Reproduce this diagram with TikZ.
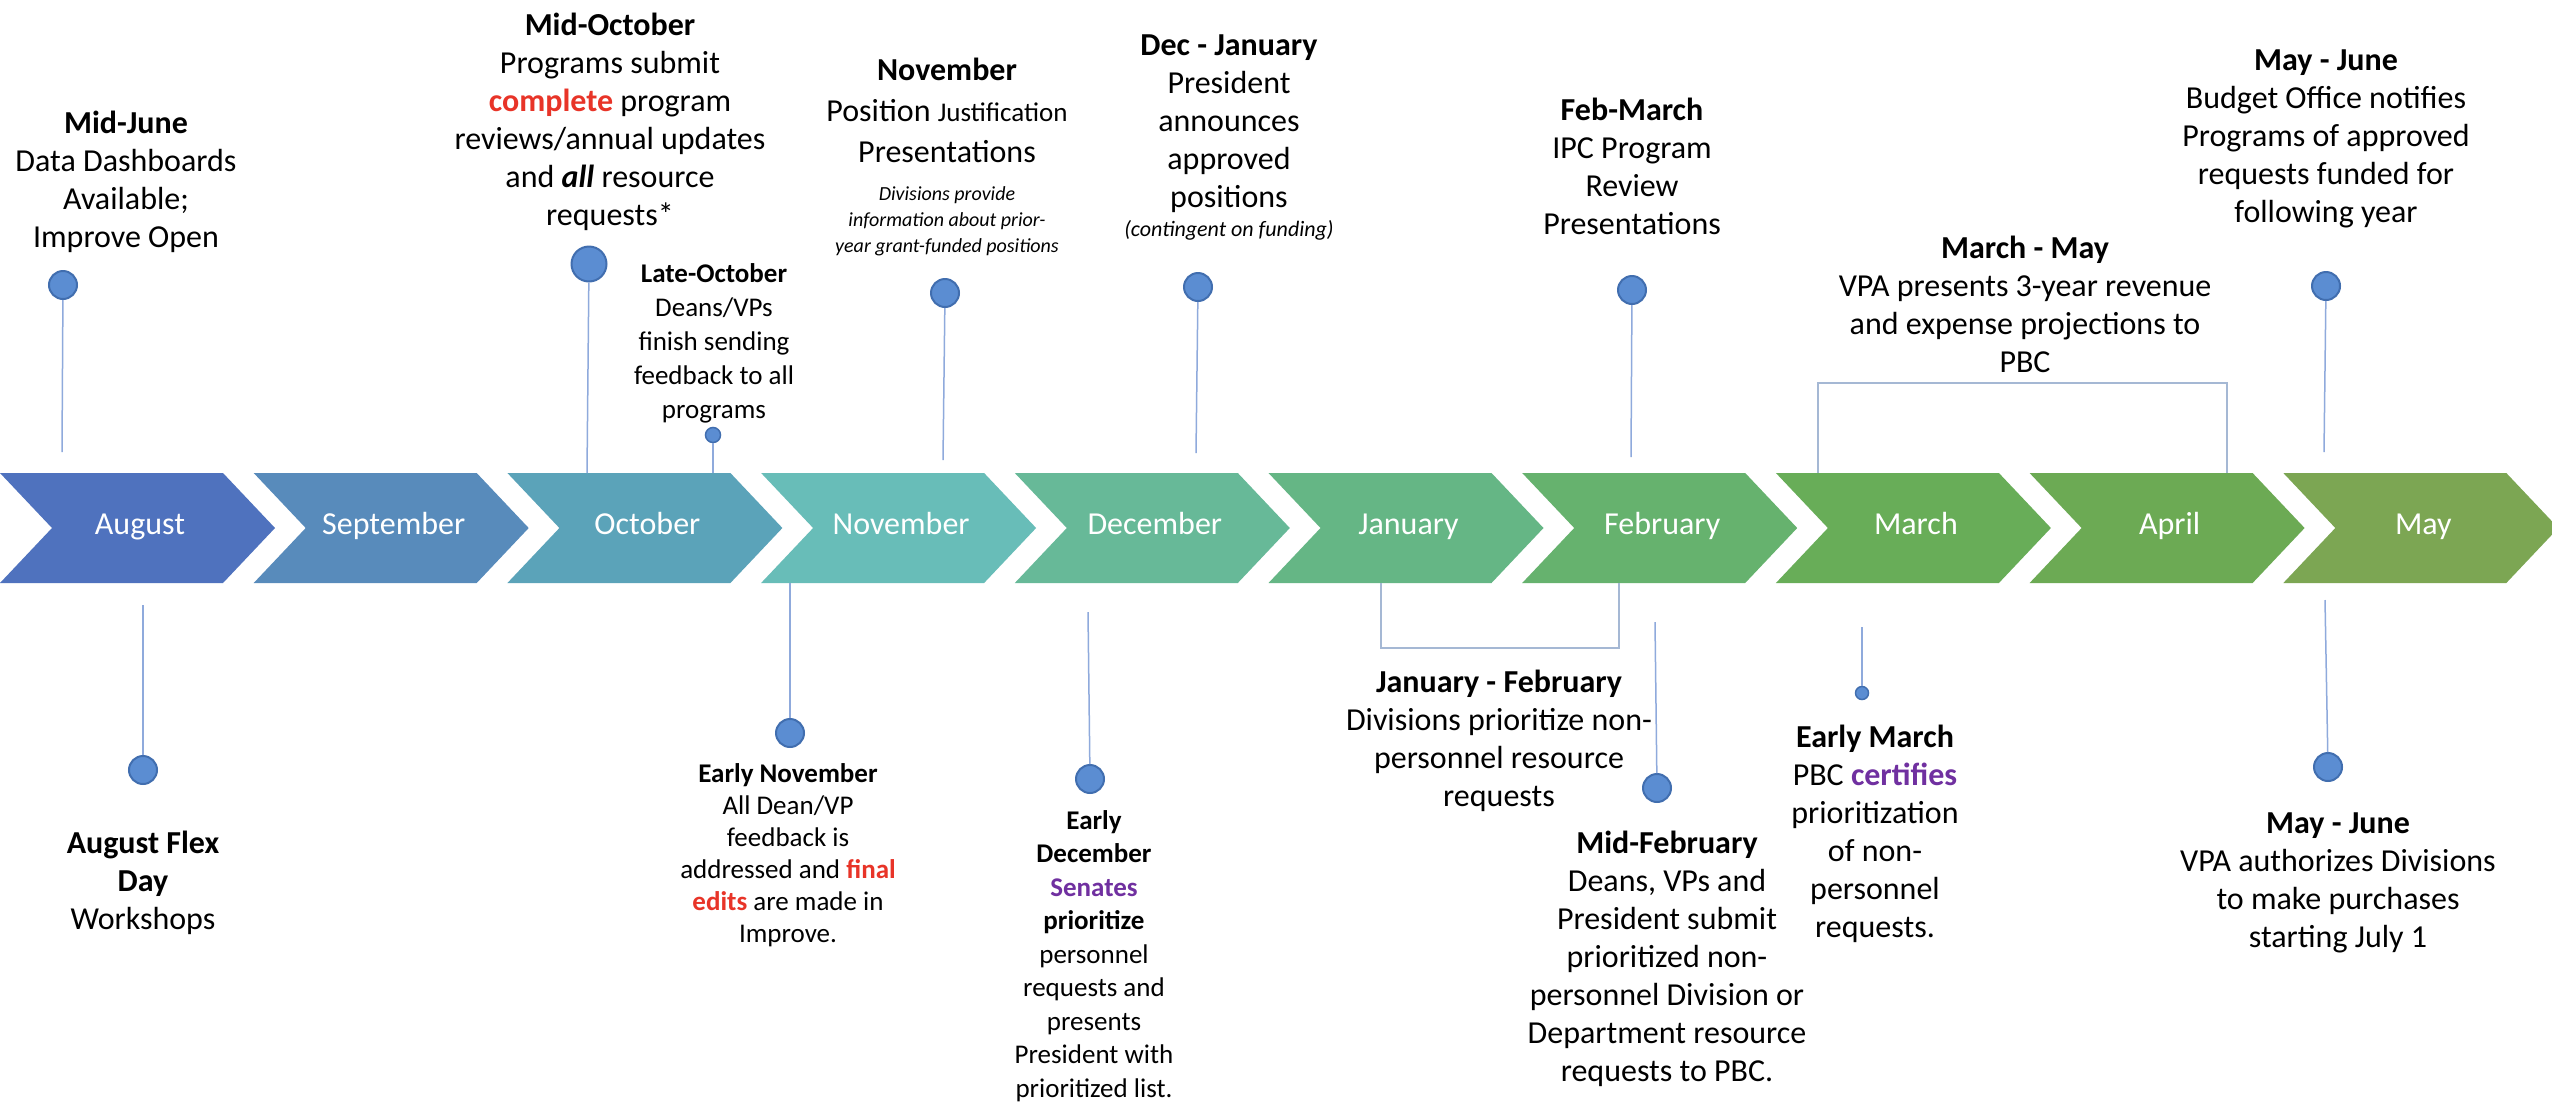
\documentclass[tikz,border=0pt]{standalone}
\usepackage{fontspec}
\setmainfont{Carlito}
\usetikzlibrary{shapes.geometric}
\definecolor{cAug}{RGB}{79,114,190}
\definecolor{cSep}{RGB}{88,139,187}
\definecolor{cOct}{RGB}{91,163,185}
\definecolor{cNov}{RGB}{104,189,184}
\definecolor{cDec}{RGB}{103,185,152}
\definecolor{cJan}{RGB}{101,182,133}
\definecolor{cFeb}{RGB}{102,178,110}
\definecolor{cMar}{RGB}{104,173,88}
\definecolor{cApr}{RGB}{108,170,84}
\definecolor{cMay}{RGB}{124,166,83}
\definecolor{dotfill}{RGB}{91,141,210}
\definecolor{dotdraw}{RGB}{65,110,175}
\definecolor{connc}{RGB}{143,170,220}
\definecolor{brkc}{RGB}{165,184,212}
\definecolor{hired}{RGB}{232,52,40}
\definecolor{hipurple}{RGB}{112,48,160}
\newcommand{\bigtxt}{\fontsize{32}{38}\selectfont}
\newcommand{\smalltxt}{\fontsize{27}{33}\selectfont}
\newcommand{\tinyit}{\fontsize{20}{23}\selectfont\itshape}
\begin{document}
\begin{tikzpicture}[x=1pt,y=-1pt,
  lbl/.style={font=\bigtxt, align=center, inner sep=0pt, anchor=north},
  lblsm/.style={font=\smalltxt, align=center, inner sep=0pt, anchor=north},
  month/.style={font=\bigtxt, text=white, inner sep=0pt, text height=22pt, text depth=7pt},
  dot/.style={circle, fill=dotfill, draw=dotdraw, line width=2pt, minimum size=28pt, inner sep=0pt},
  bigdot/.style={dot, minimum size=35pt},
  smalldot/.style={dot, minimum size=15pt, line width=1.5pt},
  conn/.style={draw=connc, line width=1.5pt},
  brk/.style={draw=brkc, line width=2.5pt}]
\useasboundingbox (0,0) rectangle (2552,1101);
\fill[white] (0,0) rectangle (2552,1101);
% chevrons
\foreach \i/\c/\m in {0/cAug/August,1/cSep/September,2/cOct/October,3/cNov/November,4/cDec/December,5/cJan/January,6/cFeb/February,7/cMar/March,8/cApr/April,9/cMay/May}{
  \pgfmathsetmacro\xo{253.7*\i}
  \fill[\c] (\xo,473) -- ++(223,0) -- ++(52,55) -- ++(-52,55) -- ++(-223,0) -- ++(52,-55) -- cycle;
  \node[month] (m\i) at (\xo+140,527) {\m};
}
% dots
\node[dot] (dJune) at (63,285) {};
\node[bigdot] (dOctMid) at (589,264) {};
\node[smalldot] (dOctLate) at (713,435) {};
\node[dot] (dNov) at (945,293) {};
\node[dot] (dDec) at (1198,287) {};
\node[dot] (dFeb) at (1632,290) {};
\node[dot] (dMayT) at (2326,286) {};
\node[dot] (dAug) at (143,770) {};
\node[dot] (dNovE) at (790,733) {};
\node[dot] (dDecE) at (1090,779) {};
\node[dot] (dFebM) at (1657,788) {};
\node[smalldot, minimum size=13pt] (dMarE) at (1862,693) {};
\node[dot] (dMayB) at (2328,767) {};
% connector ends
\coordinate (eJune) at (62,452);
\coordinate (eOctMid) at (587,473);
\coordinate (eOctLate) at (713,473);
\coordinate (eNov) at (943,460);
\coordinate (eDec) at (1196,453);
\coordinate (eFeb) at (1631,457);
\coordinate (eMayT) at (2324,452);
\coordinate (eAug) at (143,605);
\coordinate (eNovE) at (790,583);
\coordinate (eDecE) at (1088,612);
\coordinate (eFebM) at (1655,622);
\coordinate (eMarE) at (1862,627);
\coordinate (eMayB) at (2325,600);
\foreach \d/\e in {dJune/eJune,dOctMid/eOctMid,dOctLate/eOctLate,dNov/eNov,dDec/eDec,dFeb/eFeb,dMayT/eMayT,dAug/eAug,dNovE/eNovE,dDecE/eDecE,dFebM/eFebM,dMarE/eMarE,dMayB/eMayB}
  \draw[conn] (\d) -- (\e);
% brackets
\coordinate (bMa1) at (1818,473);
\coordinate (bMa2) at (2227,473);
\draw[brk] (bMa1) -- (1818,383) -- (2227,383) -- (bMa2);
\coordinate (bJf1) at (1381,583);
\coordinate (bJf2) at (1619,583);
\draw[brk] (bJf1) -- (1381,648) -- (1619,648) -- (bJf2);
% top texts
\node[lbl] (tJune) at (126,111) {\textbf{Mid-June}\\Data Dashboards\\Available;\\Improve Open};
\node[lbl] (tOctMid) at (610,13) {\textbf{Mid-October}\\Programs submit\\\textcolor{hired}{\textbf{complete}} program\\reviews/annual updates\\and \textbf{\textit{all}} resource\\requests*};
\node[lblsm, font=\fontsize{27}{34}\selectfont] (tOctLate) at (714,263) {\textbf{Late-October}\\Deans/VPs\\finish sending\\feedback to all\\programs};
\node[lbl] (tNov) at (947,58) {\textbf{November}\\[3pt]Position {\fontsize{27}{30}\selectfont Justification}\\[3pt]Presentations\\{\tinyit Divisions provide}\\[-12pt]{\tinyit information about prior-}\\[-12pt]{\tinyit year grant-funded positions}};
\node[lbl] (tDec) at (1229,35) {\textbf{Dec - January}\\President\\announces\\approved\\positions\\[-9pt]{\fontsize{22}{25}\selectfont\itshape (contingent on funding)}};
\node[lbl] (tFeb) at (1632,98) {\textbf{Feb-March}\\IPC Program\\Review\\Presentations};
\node[lbl] (tMar) at (2025,236) {\textbf{March - May}\\VPA presents 3-year revenue\\and expense projections to\\PBC};
\node[lbl] (tMayT) at (2326,50) {\textbf{May - June}\\Budget Office notifies\\Programs of approved\\requests funded for\\following year};
% bottom texts
\node[lbl] (tAug) at (143,831) {\textbf{August Flex}\\\textbf{Day}\\Workshops};
\node[lblsm, font=\fontsize{27}{32}\selectfont] (tNovE) at (788,763) {\textbf{Early November}\\All Dean/VP\\feedback is\\addressed and \textcolor{hired}{\textbf{final}}\\\textcolor{hired}{\textbf{edits}} are made in\\Improve.};
\node[lblsm, font=\fontsize{27}{33.5}\selectfont] (tDecE) at (1094,810) {\textbf{Early}\\\textbf{December}\\\textcolor{hipurple}{\textbf{Senates}}\\\textbf{prioritize}\\personnel\\requests and\\presents\\President with\\prioritized list.};
\node[lbl] (tJanFeb) at (1499,670) {\textbf{January - February}\\Divisions prioritize non-\\personnel resource\\requests};
\node[lbl] (tFebM) at (1667,831) {\textbf{Mid-February}\\Deans, VPs and\\President submit\\prioritized non-\\personnel Division or\\Department resource\\requests to PBC.};
\node[lbl] (tMarE) at (1875,725) {\textbf{Early March}\\PBC \textcolor{hipurple}{\textbf{certifies}}\\prioritization\\of non-\\personnel\\requests.};
\node[lbl] (tMayB) at (2338,813) {\textbf{May - June}\\VPA authorizes Divisions\\to make purchases\\starting July 1};
\end{tikzpicture}
\end{document}
